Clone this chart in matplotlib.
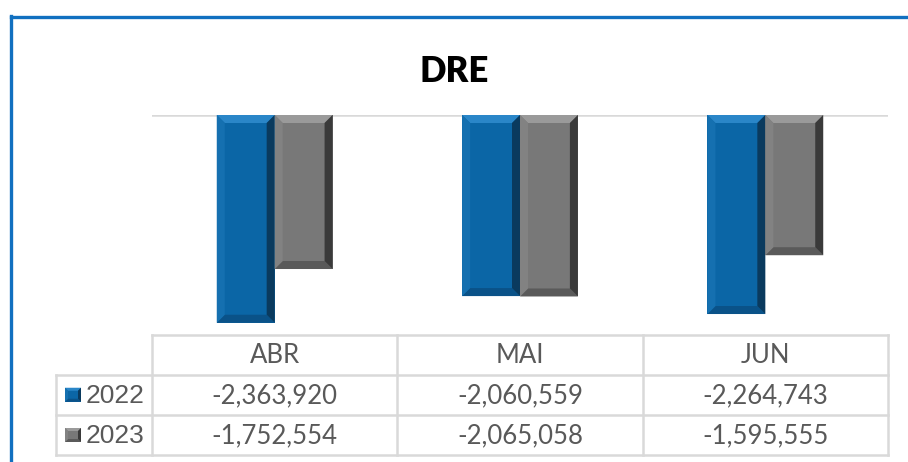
import matplotlib
matplotlib.use("Agg")
import matplotlib.pyplot as plt
from matplotlib.patches import Polygon
from matplotlib.lines import Line2D
import numpy as np

# data
months = ["ABR", "MAI", "JUN"]
series_names = ["2022", "2023"]
values_2022 = [-2363920, -2060559, -2264743]
values_2023 = [-1752554, -2065058, -1595555]

W, H = 908, 462
DPI = 100

# colours: face, top, left, right, bottom
STYLES = {
    "2022": ("#0B66A6", "#2A86C8", "#1570B0", "#0A3A5E", "#0A5288"),
    "2023": ("#787878", "#9A9A9A", "#828282", "#3A3A3A", "#5A5A5A"),
}
GRID = "#D9D9D9"
TXT = "#595959"


def px(x, y):
    """pixel coords (top-left origin) -> figure fraction"""
    return x / W, 1 - y / H


def bevel(ax, x0, y0, x1, y1, style, b, transform):
    """draw a bevelled rectangle given display-pixel box (y1 is top)"""
    face, top, left, right, bottom = style
    inv = transform.inverted()
    def conv(pts):
        return inv.transform(np.array(pts))
    ax.add_patch(Polygon(conv([(x0, y0), (x1, y0), (x1, y1), (x0, y1)]),
                         closed=True, facecolor=face, edgecolor="none", zorder=3))
    pieces = [
        (top, [(x0, y1), (x1, y1), (x1 - b, y1 - b), (x0 + b, y1 - b)]),
        (bottom, [(x0, y0), (x1, y0), (x1 - b, y0 + b), (x0 + b, y0 + b)]),
        (left, [(x0, y0), (x0, y1), (x0 + b, y1 - b), (x0 + b, y0 + b)]),
        (right, [(x1, y0), (x1, y1), (x1 - b, y1 - b), (x1 - b, y0 + b)]),
    ]
    for col, pts in pieces:
        ax.add_patch(Polygon(conv(pts), closed=True, facecolor=col,
                             edgecolor="none", zorder=4))


fig = plt.figure(figsize=(W / DPI, H / DPI), dpi=DPI)
fig.patch.set_facecolor("white")

# blue frame (top and left)
fig.add_artist(Line2D([px(10.5, 0)[0], 1.0], [px(0, 17)[1]] * 2, color="#1170C0", lw=2.4))
fig.add_artist(Line2D([px(10.5, 0)[0]] * 2, [px(0, 16)[1], 0.0], color="#1170C0", lw=2.4))

# title
fig.text(0.5, px(0, 71)[1], "DRE", ha="center", va="center",
         fontsize=25, fontweight="heavy", family="Lato", color="black")

# plot area
left, right, top, bottom = 152, 888, 115, 334.7
ax = fig.add_axes([left / W, 1 - bottom / H, (right - left) / W, (bottom - top) / H])
ax.set_xlim(-0.5, len(months) - 0.5)
ax.set_ylim(-2500000, 0)
ax.axis("off")
ax.axhline(0, color=GRID, lw=1.8, zorder=1)

bar_w = 0.236
x = np.arange(len(months))
fig.canvas.draw()
trans = ax.transData
for offset, name, vals in [(-bar_w / 2, "2022", values_2022), (bar_w / 2, "2023", values_2023)]:
    bars = ax.bar(x + offset, vals, width=bar_w, color="none", edgecolor="none")
    for r in bars:
        (dx0, dy0) = trans.transform((r.get_x(), r.get_y() + r.get_height()))
        (dx1, dy1) = trans.transform((r.get_x() + r.get_width(), r.get_y()))
        bevel(ax, dx0, min(dy0, dy1), dx1, max(dy0, dy1), STYLES[name], 8, trans)

# data table
tab = fig.add_axes([0, 0, 1, 1])
tab.set_xlim(0, W)
tab.set_ylim(H, 0)
tab.axis("off")

col_edges = [left + i * (right - left) / len(months) for i in range(len(months) + 1)]
row_edges = [334.5, 374.5, 415, 455]
legend_left = 56
lw = 1.8
# horizontal lines
tab.plot([left, right], [row_edges[0]] * 2, color=GRID, lw=lw)
for ry in row_edges[1:]:
    tab.plot([legend_left, right], [ry, ry], color=GRID, lw=lw)
# vertical lines
for cx in col_edges:
    tab.plot([cx, cx], [row_edges[0], row_edges[-1]], color=GRID, lw=lw)
tab.plot([legend_left, legend_left], [row_edges[1], row_edges[-1]], color=GRID, lw=lw)

for i, m in enumerate(months):
    cx = (col_edges[i] + col_edges[i + 1]) / 2
    tab.text(cx, (row_edges[0] + row_edges[1]) / 2 + 1, m, ha="center", va="center",
             fontsize=18.5, family="Lato", color=TXT)
    for j, vals in enumerate([values_2022, values_2023]):
        cy = (row_edges[j + 1] + row_edges[j + 2]) / 2 + 1
        tab.text(cx, cy, f"{vals[i]:,}", ha="center", va="center",
                 fontsize=18.5, family="Lato", color=TXT)

fig.canvas.draw()
for j, name in enumerate(series_names):
    cy = (row_edges[j + 1] + row_edges[j + 2]) / 2
    # legend key, in pixel coordinates of the table axes
    tt = tab.transData
    kx0, ky0 = tt.transform((65, cy + 7))
    kx1, ky1 = tt.transform((81, cy - 7))
    bevel(tab, kx0, ky0, kx1, ky1, STYLES[name], 3, tt)
    tab.text(86, cy + 1, name, ha="left", va="center", fontsize=19,
             family="Liberation Sans", color=TXT)

fig.savefig("out.png", dpi=DPI, facecolor="white")
